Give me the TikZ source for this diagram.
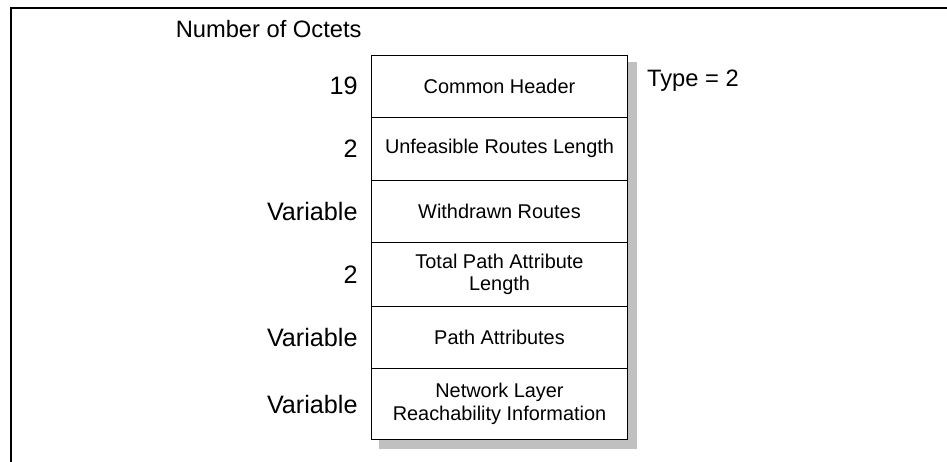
\documentclass[tikz,border=0pt]{standalone}
\usepackage{fontspec}
\setmainfont{Liberation Sans}
\definecolor{shadowgray}{HTML}{C0C0C0}
\begin{document}
\begin{tikzpicture}[x=1pt,y=-1pt,
  field/.style={draw=black,line width=0.9pt,fill=white,minimum width=255.6pt,inner sep=0pt,align=center,font=\fontsize{19.9}{22.6}\selectfont},
  lab/.style={anchor=east,inner sep=0pt,font=\fontsize{25.2}{28}\selectfont},
  title/.style={inner sep=0pt,font=\fontsize{23.7}{26}\selectfont},
  frameline/.style={line width=1.3pt}]
\useasboundingbox (0,0) rectangle (947,462);
\coordinate (ftr) at (946.7,8);
\coordinate (ftl) at (11,8);
\coordinate (fbl) at (11,461.7);
\draw[frameline] (ftr) -- (ftl) -- (fbl);
\fill[shadowgray] (378.5,62.3) rectangle (636.7,449);
\node[field,minimum height=62.3pt] (ch) at (499.5,86.2) {Common Header};
\node[field,minimum height=62.7pt] (url) at (499.5,148.7) {Unfeasible Routes Length};
\node[field,minimum height=62.7pt] (wr) at (499.5,211.4) {Withdrawn Routes};
\node[field,minimum height=63.3pt] (tpal) at (499.5,274.4) {Total Path Attribute\\Length};
\node[field,minimum height=62.7pt] (pa) at (499.5,337.4) {Path Attributes};
\node[field,minimum height=70.6pt] (nlri) at (499.5,404) {Network Layer\\Reachability Information};
\node[title,anchor=base east] (noo) at (361.7,38) {Number of Octets};
\node[lab] (l1) at (357.8,86.2) {19};
\node[lab] (l2) at (357.8,148.7) {2};
\node[lab] (l3) at (357.8,211.4) {Variable};
\node[lab] (l4) at (357.8,274.4) {2};
\node[lab] (l5) at (357.8,337.4) {Variable};
\node[lab] (l6) at (357.8,404) {Variable};
\node[title,anchor=west] (type) at (647,80.5) {Type = 2};
\end{tikzpicture}
\end{document}
